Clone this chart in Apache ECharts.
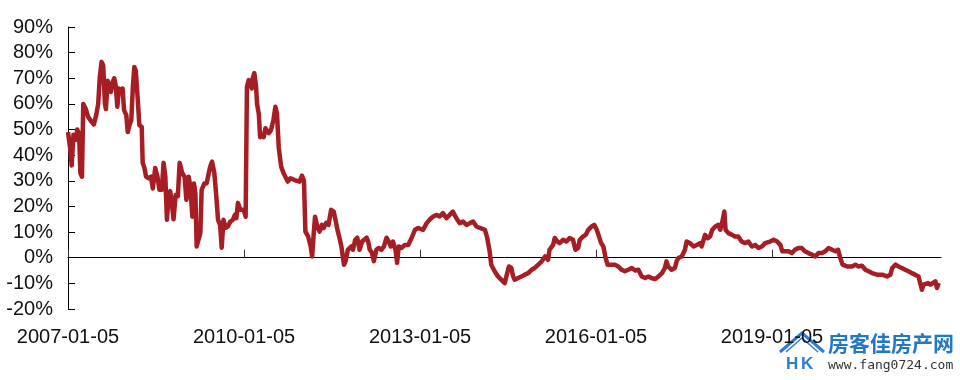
<!DOCTYPE html>
<html>
<head>
<meta charset="utf-8">
<script src="https://cdn.jsdelivr.net/npm/echarts@6/dist/echarts.min.js"></script>
<style>html,body{margin:0;padding:0;background:#fff}#c{width:960px;height:380px}</style>
</head>
<body>
<div id="c"></div>
<script>
var dates = [
'2007-01-05','2007-01-18','2007-01-28','2007-02-08','2007-02-25','2007-03-03','2007-03-15','2007-03-23','2007-04-02','2007-04-10',
'2007-04-26','2007-05-10','2007-06-01','2007-06-15','2007-07-01','2007-07-12','2007-07-22','2007-08-02','2007-08-12','2007-08-23',
'2007-08-29','2007-09-09','2007-09-19','2007-09-29','2007-10-10','2007-10-20','2007-10-30','2007-11-08','2007-11-19','2007-11-29',
'2007-12-11','2007-12-20','2008-01-03','2008-01-12','2008-01-23','2008-02-03','2008-02-13','2008-02-22','2008-03-02','2008-03-12',
'2008-03-24','2008-04-08','2008-04-14','2008-04-25','2008-05-05','2008-05-19','2008-06-04','2008-06-16','2008-07-01','2008-07-15',
'2008-07-27','2008-08-11','2008-08-22','2008-09-02','2008-09-12','2008-09-22','2008-10-02','2008-10-11','2008-10-23','2008-11-05',
'2008-11-19','2008-11-30','2008-12-16','2008-12-31','2009-01-11','2009-01-25','2009-02-05','2009-02-17','2009-02-27','2009-03-08',
'2009-03-16','2009-03-28','2009-04-08','2009-04-16','2009-05-03','2009-05-17','2009-05-27','2009-06-08','2009-06-20','2009-07-04',
'2009-07-15','2009-07-27','2009-08-09','2009-08-19','2009-08-30','2009-09-12','2009-09-26','2009-10-11','2009-10-27','2009-11-09',
'2009-11-18','2009-11-28','2009-12-13','2009-12-25','2010-01-03','2010-01-15','2010-01-23','2010-02-03','2010-02-14','2010-02-22',
'2010-02-28','2010-03-10','2010-03-21','2010-03-27','2010-04-07','2010-04-15','2010-04-27','2010-05-07','2010-05-18','2010-05-28',
'2010-06-08','2010-06-22','2010-07-07','2010-07-19','2010-07-29','2010-08-09','2010-08-24','2010-09-08','2010-09-20','2010-10-04',
'2010-10-21','2010-11-16','2010-12-16','2011-01-01','2011-01-13','2011-01-22','2011-02-08','2011-02-24','2011-03-05','2011-03-15',
'2011-03-23','2011-04-06','2011-04-20','2011-05-04','2011-05-16','2011-06-01','2011-06-15','2011-07-01','2011-07-17','2011-07-28',
'2011-08-12','2011-08-22','2011-09-03','2011-09-19','2011-09-29','2011-10-13','2011-10-24','2011-11-04','2011-11-14','2011-11-28',
'2011-12-11','2011-12-25','2012-01-10','2012-01-22','2012-02-07','2012-02-17','2012-02-27','2012-03-11','2012-03-23','2012-04-08',
'2012-04-22','2012-05-09','2012-05-25','2012-06-10','2012-06-24','2012-07-06','2012-07-20','2012-08-05','2012-08-15','2012-08-25',
'2012-09-12','2012-10-02','2012-10-23','2012-11-13','2012-12-04','2012-12-25','2013-01-04','2013-01-24','2013-02-15','2013-03-05',
'2013-03-26','2013-04-16','2013-05-07','2013-05-27','2013-06-18','2013-07-08','2013-07-28','2013-08-19','2013-09-09','2013-09-30',
'2013-10-21','2013-11-11','2013-12-01','2013-12-22','2014-01-12','2014-02-13','2014-02-27','2014-03-14','2014-03-24','2014-04-14',
'2014-05-05','2014-05-26','2014-06-16','2014-06-26','2014-07-12','2014-07-27','2014-08-07','2014-08-17','2014-09-08','2014-09-28',
'2014-10-19','2014-11-09','2014-11-30','2014-12-20','2015-01-11','2015-02-01','2015-02-22','2015-03-12','2015-03-22','2015-04-13',
'2015-04-23','2015-05-10','2015-05-24','2015-06-14','2015-07-05','2015-07-25','2015-08-15','2015-08-30','2015-09-16','2015-09-26',
'2015-10-17','2015-11-02','2015-11-18','2015-12-09','2015-12-25','2016-01-10','2016-01-20','2016-02-06','2016-02-20','2016-03-05',
'2016-03-17','2016-04-12','2016-05-02','2016-05-22','2016-06-13','2016-07-03','2016-07-24','2016-08-15','2016-09-05','2016-09-25',
'2016-10-16','2016-11-06','2016-11-27','2016-12-18','2017-01-08','2017-01-28','2017-02-19','2017-03-09','2017-03-19','2017-03-29',
'2017-04-20','2017-05-10','2017-05-21','2017-06-01','2017-06-22','2017-07-12','2017-07-22','2017-08-12','2017-09-03','2017-09-23',
'2017-10-14','2017-10-24','2017-11-14','2017-12-01','2017-12-15','2017-12-29','2018-01-17','2018-02-03','2018-02-17','2018-03-02',
'2018-03-14','2018-03-22','2018-04-08','2018-04-29','2018-05-19','2018-06-09','2018-06-30','2018-07-21','2018-08-11','2018-09-02',
'2018-09-22','2018-10-12','2018-11-03','2018-11-23','2018-12-24','2019-01-15','2019-02-06','2019-02-26','2019-03-10','2019-03-27',
'2019-04-17','2019-05-08','2019-05-28','2019-06-18','2019-07-09','2019-07-29','2019-08-20','2019-09-11','2019-10-01','2019-10-21',
'2019-11-12','2019-12-02','2019-12-23','2020-01-14','2020-02-04','2020-02-20','2020-03-05','2020-03-19','2020-04-16','2020-05-16',
'2020-06-07','2020-06-27','2020-07-18','2020-08-08','2020-08-28','2020-09-19','2020-10-20','2020-11-20','2020-12-21','2021-01-11',
'2021-01-22','2021-02-12','2021-03-02','2021-03-23','2021-04-13','2021-05-03','2021-05-24','2021-06-14','2021-07-05','2021-07-26',
'2021-08-05','2021-08-16','2021-09-02','2021-09-17','2021-10-01','2021-10-18','2021-10-28','2021-11-08'
];
var values = [
49,43,36,48,46,50,48.5,33,31.6,60,
58,55,53,52,56,60,70.5,76.4,75,60,
58,69,69,64.7,68.6,70,66.7,58.9,66,64.7,
66,57.6,55.6,49,51.8,53.7,66.7,74.4,73,64,
51.8,51,37,35,31.6,31,31.6,27,35,31.6,
26.5,26.5,37,31.6,14.8,24,26,22,15,24.5,
24,37,33,31.6,22.6,31.6,27.7,16,29,25.2,
4.4,4.4,9.7,26.5,29,29,32,35.5,37.5,33,
25,14.8,12.8,3.9,14.8,11.7,12.2,14,14.8,16.7,
15.4,21.4,18.7,18,18.7,16,66.7,69.3,68,66,
70,72,66.7,60,56,47,47.9,47,50.5,51,
48.6,49.8,53.7,58.9,56.3,43,35.5,33,33,29.7,
31,30.3,29.7,32,30,10.2,8.3,4.4,0.5,9.6,
16,12.2,10.2,12.8,11.6,13.6,12.8,18.7,18,14.8,
10.2,7.8,4.4,-2.7,-1.4,3.1,2.5,4.4,3.1,7,
7.8,3.1,6.3,5.7,7.8,6.3,3.1,1.9,-1.4,3.1,
3.8,3.1,4.4,7.8,6.3,4.4,6.3,3.1,-2,4.4,
3.8,5,5,7.7,10.9,11.6,12.2,10.9,13.5,14.8,
16,16.7,16.1,17.4,15.4,16.7,18,15.4,13.5,14.1,
12.8,13.5,14.1,12.2,11.6,10.9,7.7,2.5,-2.7,-5.3,
-7.3,-8.6,-9.9,-7.3,-3.4,-4,-7.3,-8.6,-7.9,-7.3,
-6.6,-6,-4.7,-4,-2.7,-1.4,0.5,-0.8,3.1,5,
7.7,6.3,5.7,7,6.3,7.7,7,3.1,3.8,7,
8.3,8.9,10.9,12.2,12.8,10.9,9,5.7,4.4,-0.1,
-2.7,-2.7,-2.7,-3.4,-4.7,-5.3,-4.7,-4,-5,-4.7,
-7.3,-7.9,-7.3,-8,-8.3,-7.3,-6,-4,-1.4,-3.4,
-4.7,-4,-1.4,-0.1,0.5,3.1,6.3,5.7,4.4,5,
5.7,4.4,8.9,7.6,8.3,10.9,12.2,12.8,10.9,14.1,
18,10.9,9.6,9,8.3,8.3,6.3,5.7,6.3,4.4,
5,3.8,4.4,5.7,6.3,7,6.3,5,2.5,2.5,
2.5,1.8,3.1,3.8,3.8,2.5,1.8,1.2,0.5,1.8,
1.8,2.5,3.8,3.1,2.5,3.1,-0.1,-2.7,-3.4,-3.4,
-2.7,-3.4,-3.1,-4.7,-5.3,-6,-6.6,-6.6,-7.3,-6.6,
-4,-2.7,-3.4,-4,-4.7,-5.3,-6,-6.6,-7.3,-12.5,
-10.5,-11.2,-9.9,-10.5,-9.9,-9.2,-11.8,-9.9
];
var xTickLabels = ['2007-01-05','2010-01-05','2013-01-05','2016-01-05','2019-01-05'];
var xMin = '2007-01-05';
var xMax = '2021-11-22';
var yMin = -20, yMax = 90, yStep = 10;

function toTime(s){ var p = s.split('-'); return Date.UTC(+p[0], +p[1]-1, +p[2]); }
function pad(n){ return (n<10?'0':'')+n; }
function fmtDate(v){ var d = new Date(Math.round(v)); return d.getUTCFullYear()+'-'+pad(d.getUTCMonth()+1)+'-'+pad(d.getUTCDate()); }

var seriesData = dates.map(function(d,i){ return [toTime(d), values[i]]; });
var tickTimes = xTickLabels.map(toTime);

var chart = echarts.init(document.getElementById('c'), null, {renderer:'canvas'});
var font = "'Liberation Sans', Arial, sans-serif";
chart.setOption({
  animation: false,
  backgroundColor: '#ffffff',
  grid: {left: 68, right: 19, top: 27, bottom: 71, outerBoundsMode: 'none', containLabel: false},
  xAxis: {
    type: 'value',
    scale: true,
    min: toTime(xMin),
    max: toTime(xMax),
    axisLine: {show: true, onZero: true, lineStyle: {color: '#000', width: 1}},
    axisTick: {show: true, inside: true, length: 8, customValues: tickTimes, lineStyle: {color: '#333', width: 1}},
    axisLabel: {show: true, customValues: tickTimes, margin: 18, fontSize: 20, fontFamily: font, color: '#111',
      formatter: function(v){ return fmtDate(v); }},
    splitLine: {show: false}
  },
  yAxis: {
    type: 'value',
    min: yMin, max: yMax, interval: yStep,
    axisLine: {show: true, lineStyle: {color: '#000', width: 1}},
    axisTick: {show: true, inside: true, length: 7, lineStyle: {color: '#000', width: 1}},
    axisLabel: {margin: 15, fontSize: 20, fontFamily: font, color: '#111', padding: [4, 0, 0, 0],
      formatter: function(v){ return Math.round(v) + '%'; }},
    splitLine: {show: false}
  },
  series: [{
    type: 'line',
    data: seriesData,
    showSymbol: false,
    symbol: 'none',
    lineStyle: {color: '#A61E24', width: 4.5, join: 'round'},
    silent: true
  }],
  graphic: [
    {type: 'polyline', shape: {points: [[780,352],[802,333],[824,352]]}, style: {stroke: '#2a7fd4', lineWidth: 3, fill: null}},
    {type: 'polyline', shape: {points: [[786,352],[802,338],[818,352]]}, style: {stroke: '#2a7fd4', lineWidth: 1.5, fill: null}},
    {type: 'text', left: 786, top: 356, style: {text: 'H', fontSize: 17, fontWeight: 'bold', fontFamily: font, fill: '#2a7fd4'}},
    {type: 'text', left: 801, top: 356, style: {text: 'K', fontSize: 17, fontWeight: 'bold', fontFamily: font, fill: '#2a7fd4'}},
    {type: 'text', left: 828, top: 333, style: {text: '房客佳房产网', fontSize: 21, fontWeight: 'bold', fontFamily: "'Noto Sans CJK SC', sans-serif", fill: '#2178c8'}},
    {type: 'text', left: 828, top: 359, style: {text: 'www.fang0724.com', fontSize: 13, fontFamily: "'DejaVu Sans Mono', monospace", fill: '#333'}}
  ]
});
</script>
</body>
</html>
